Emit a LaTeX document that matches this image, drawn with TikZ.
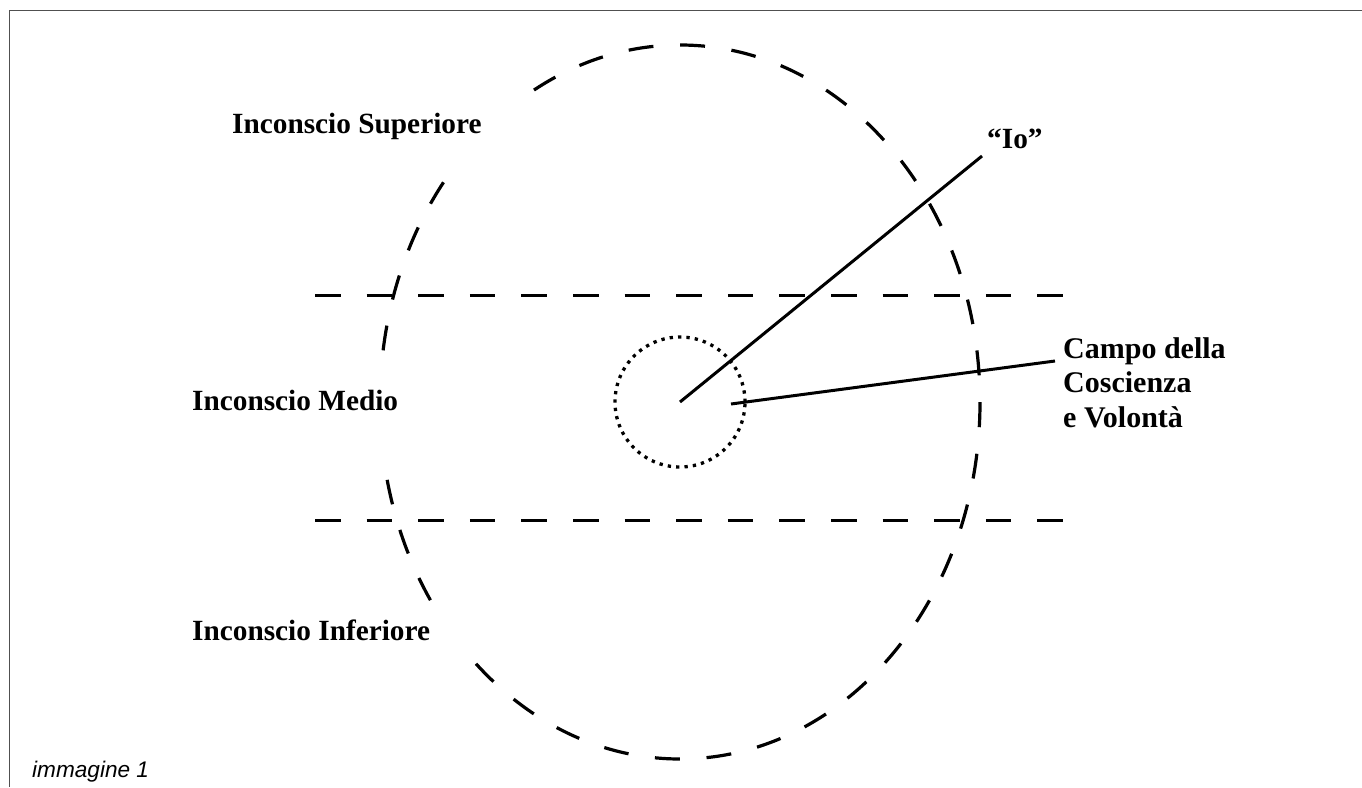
\documentclass[tikz,border=0pt]{standalone}
\usepackage{fontspec}
\setmainfont{Liberation Serif}
\newfontfamily\capfont{Liberation Sans}
\begin{document}
\begin{tikzpicture}[x=1pt,y=-1pt,
  lbl/.style={font=\fontsize{29.3}{34.5}\selectfont\bfseries, inner sep=0pt, anchor=base west},
  sidelbl/.style={lbl, font=\fontsize{30}{34.5}\selectfont\bfseries},
  maskbox/.style={lbl, fill=white},
  caption/.style={font=\capfont\itshape\fontsize{22.6}{26}\selectfont, inner sep=0pt, anchor=base west},
  dashline/.style={line width=3pt, dash pattern=on 25.5pt off 26.1pt},
  ovaldash/.style={line width=3.2pt, dash pattern=on 25pt off 26.7pt, dash phase=25pt},
  dotring/.style={line width=3.3pt, dash pattern=on 3.3pt off 5.1pt},
  pointer/.style={line width=3pt},
  framel/.style={line width=1.5pt, draw={rgb,255:red,80;green,80;blue,80}}]
\useasboundingbox (0,0) rectangle (1362,787);
% frame
\coordinate (ftl) at (9.5,10.5);
\coordinate (ftr) at (1362,10.5);
\coordinate (fbl) at (9.5,787);
\draw[framel] (ftr) -- (ftl) -- (fbl);
% centre
\coordinate (c) at (680,402);
\draw[ovaldash] (c) ellipse [x radius=300pt, y radius=357pt];
\draw[dotring] (c) circle [radius=65pt];
% level lines
\coordinate (u1) at (315,295);
\coordinate (u2) at (1063,295);
\coordinate (l1) at (315,520);
\coordinate (l2) at (1063,520);
\draw[dashline] (u1) -- (u2);
\draw[dashline] (l1) -- (l2);
% labels
\node[maskbox, inner xsep=40pt, text height=35pt, text depth=37pt] (sup) at (192,133) {Inconscio Superiore};
\node[maskbox, inner xsep=4pt, text height=48pt, text depth=57pt] (med) at (188,410) {Inconscio Medio};
\node[maskbox, inner xsep=31pt, text height=32pt, text depth=15pt] (inf) at (161,640) {Inconscio Inferiore};
\node[lbl] (io) at (987,148) {“Io”};
\node[sidelbl] (campo1) at (1063,358) {Campo della};
\node[sidelbl] (campo2) at (1063,392) {Coscienza};
\node[sidelbl] (campo3) at (1063,427) {e Volontà};
\node[caption] (cap) at (32,777) {immagine 1};
% pointers
\coordinate (ioend) at (982,156);
\coordinate (cs) at (731,404);
\coordinate (cend) at (1055,361);
\draw[pointer] (c) -- (ioend);
\draw[pointer] (cs) -- (cend);
\end{tikzpicture}
\end{document}
